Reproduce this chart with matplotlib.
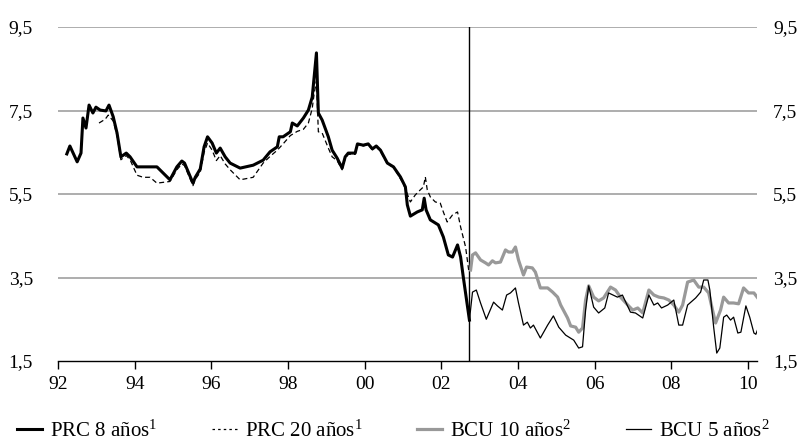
import matplotlib
matplotlib.use("Agg")
import matplotlib.pyplot as plt
from matplotlib.lines import Line2D

plt.rcParams['font.family'] = ['Liberation Serif', 'DejaVu Serif']
plt.rcParams['mathtext.fontset'] = 'custom'
plt.rcParams['mathtext.rm'] = 'Liberation Serif'
plt.rcParams['mathtext.it'] = 'Liberation Serif'

# PRC 8 años (decimal years, %)
prc8_x = [1992.23, 1992.31, 1992.50, 1992.60, 1992.65, 1992.73, 1992.81, 1992.91, 1992.99, 1993.10,
          1993.25, 1993.33, 1993.44, 1993.54, 1993.64, 1993.78, 1993.88, 1994.06, 1994.22, 1994.58,
          1994.92, 1995.10, 1995.23, 1995.30, 1995.52, 1995.58, 1995.71, 1995.81, 1995.90, 1996.02,
          1996.13, 1996.23, 1996.36, 1996.49, 1996.75, 1997.09, 1997.35, 1997.53, 1997.72, 1997.77,
          1997.87, 1998.06, 1998.11, 1998.24, 1998.40, 1998.53, 1998.63, 1998.68, 1998.74, 1998.79,
          1998.89, 1999.05, 1999.15, 1999.28, 1999.41, 1999.49, 1999.57, 1999.75, 1999.81, 1999.96,
          2000.09, 2000.20, 2000.30, 2000.41, 2000.59, 2000.75, 2000.93, 2001.06, 2001.11, 2001.19,
          2001.37, 2001.50, 2001.55, 2001.60, 2001.71, 2001.92, 2002.05, 2002.18, 2002.29, 2002.42,
          2002.50, 2002.57, 2002.73]
prc8_y = [6.46, 6.65, 6.27, 6.48, 7.32, 7.08, 7.63, 7.44, 7.58, 7.51,
          7.49, 7.63, 7.35, 6.96, 6.39, 6.48, 6.39, 6.15, 6.15, 6.15,
          5.84, 6.15, 6.29, 6.24, 5.76, 5.90, 6.10, 6.63, 6.87, 6.72,
          6.48, 6.60, 6.39, 6.24, 6.12, 6.19, 6.31, 6.51, 6.63, 6.87,
          6.87, 6.99, 7.20, 7.13, 7.32, 7.51, 7.82, 8.30, 8.88, 7.44,
          7.27, 6.87, 6.55, 6.36, 6.12, 6.39, 6.48, 6.48, 6.70, 6.67,
          6.70, 6.58, 6.65, 6.55, 6.24, 6.15, 5.91, 5.67, 5.24, 4.97,
          5.07, 5.12, 5.40, 5.12, 4.88, 4.76, 4.47, 4.04, 3.99, 4.28,
          3.99, 3.51, 2.48]

# PRC 20 años
prc20_x = [1993.07, 1993.23, 1993.31, 1993.44, 1993.54, 1993.64, 1993.78, 1993.88, 1994.06, 1994.22,
           1994.40, 1994.58, 1994.92, 1995.10, 1995.23, 1995.30, 1995.52, 1995.58, 1995.71, 1995.81,
           1995.90, 1996.02, 1996.13, 1996.23, 1996.36, 1996.49, 1996.75, 1997.09, 1997.35, 1997.53,
           1997.72, 1997.87, 1998.06, 1998.24, 1998.40, 1998.53, 1998.63, 1998.68, 1998.74, 1998.79,
           1998.89, 1999.05, 1999.15, 1999.28, 1999.41, 1999.49, 1999.57, 1999.75, 1999.81, 1999.96,
           2000.09, 2000.20, 2000.30, 2000.41, 2000.59, 2000.75, 2001.00, 2001.19, 2001.32, 2001.45,
           2001.53, 2001.58, 2001.63, 2001.71, 2001.84, 2001.97, 2002.05, 2002.15, 2002.29, 2002.42,
           2002.50, 2002.63, 2002.71]
prc20_y = [7.20, 7.29, 7.39, 7.25, 6.90, 6.32, 6.42, 6.32, 5.95, 5.90,
           5.90, 5.76, 5.80, 6.08, 6.22, 6.18, 5.70, 5.85, 6.02, 6.50, 6.72, 6.55,
           6.30, 6.42, 6.22, 6.08, 5.84, 5.90, 6.24, 6.40, 6.55, 6.70,
           6.90, 7.00, 7.05, 7.20, 7.55, 7.90, 8.20, 6.99,
           6.96, 6.60, 6.39, 6.30, 6.08, 6.35, 6.45, 6.45, 6.68, 6.65,
           6.68, 6.56, 6.63, 6.52, 6.22, 6.14, 5.76, 5.31, 5.48, 5.60,
           5.67, 5.91, 5.60, 5.43, 5.31, 5.28, 5.07, 4.83, 5.00, 5.07,
           4.71, 4.23, 3.68]

# BCU 10 años
bcu10_x = [2002.76, 2002.81, 2002.89, 2003.02, 2003.15, 2003.23, 2003.33, 2003.41, 2003.54, 2003.67,
           2003.75, 2003.85, 2003.93, 2004.01, 2004.14, 2004.22, 2004.37, 2004.45, 2004.58, 2004.77,
           2004.90, 2005.03, 2005.11, 2005.29, 2005.37, 2005.50, 2005.58, 2005.68, 2005.76, 2005.84,
           2005.97, 2006.10, 2006.23, 2006.41, 2006.54, 2006.67, 2006.86, 2006.99, 2007.12, 2007.25,
           2007.41, 2007.54, 2007.67, 2007.80, 2007.93, 2008.06, 2008.19, 2008.29, 2008.42, 2008.58,
           2008.71, 2008.84, 2008.97, 2009.07, 2009.15, 2009.28, 2009.36, 2009.49, 2009.62, 2009.75,
           2009.88, 2010.01, 2010.15, 2010.25]
bcu10_y = [3.68, 4.04, 4.09, 3.92, 3.85, 3.80, 3.90, 3.85, 3.87, 4.16,
           4.11, 4.11, 4.23, 3.92, 3.56, 3.75, 3.73, 3.63, 3.25, 3.25,
           3.15, 3.03, 2.84, 2.53, 2.34, 2.31, 2.19, 2.29, 2.96, 3.30,
           3.03, 2.94, 3.01, 3.27, 3.20, 3.03, 2.84, 2.72, 2.77, 2.65,
           3.20, 3.08, 3.03, 3.01, 2.96, 2.84, 2.67, 2.84, 3.39, 3.44,
           3.27, 3.27, 3.13, 2.72, 2.41, 2.72, 3.03, 2.89, 2.89, 2.87,
           3.25, 3.13, 3.13, 3.01]

# BCU 5 años
bcu5_x = [2002.73, 2002.81, 2002.91, 2003.02, 2003.17, 2003.36, 2003.46, 2003.59, 2003.70, 2003.80,
          2003.93, 2004.01, 2004.14, 2004.24, 2004.32, 2004.40, 2004.58, 2004.77, 2004.92, 2005.06,
          2005.24, 2005.45, 2005.58, 2005.68, 2005.76, 2005.84, 2005.97, 2006.10, 2006.26, 2006.36,
          2006.59, 2006.72, 2006.93, 2007.06, 2007.25, 2007.41, 2007.54, 2007.64, 2007.74, 2007.90,
          2008.06, 2008.19, 2008.29, 2008.42, 2008.63, 2008.76, 2008.84, 2008.95, 2009.00, 2009.10,
          2009.18, 2009.26, 2009.36, 2009.44, 2009.54, 2009.62, 2009.73, 2009.81, 2009.94, 2010.04,
          2010.15, 2010.20, 2010.25]
bcu5_y = [2.48, 3.15, 3.20, 2.89, 2.50, 2.91, 2.82, 2.72, 3.08, 3.13,
          3.25, 2.89, 2.36, 2.43, 2.29, 2.36, 2.05, 2.36, 2.58, 2.31,
          2.12, 2.00, 1.81, 1.84, 2.72, 3.30, 2.79, 2.65, 2.77, 3.13,
          3.03, 3.08, 2.67, 2.65, 2.53, 3.08, 2.84, 2.89, 2.77, 2.84,
          2.96, 2.36, 2.36, 2.84, 3.01, 3.15, 3.44, 3.44, 3.20, 2.31,
          1.69, 1.81, 2.55, 2.60, 2.48, 2.55, 2.17, 2.19, 2.82, 2.55,
          2.17, 2.14, 2.26]

x_ticks = [1992, 1994, 1996, 1998, 2000, 2002, 2004, 2006, 2008, 2010]
x_labels = ['92', '94', '96', '98', '00', '02', '04', '06', '08', '10']
y_ticks = [1.5, 3.5, 5.5, 7.5, 9.5]
y_labels = ['1,5', '3,5', '5,5', '7,5', '9,5']
break_year = 2002.73

FS = 14

fig = plt.figure(figsize=(8.03, 4.41), dpi=100)
ax = fig.add_axes([58/803, 1-361/441, (757-58)/803, (361-27)/441])

grid_c = '#a0a0a0'
for yv in y_ticks[1:]:
    ax.axhline(yv, color=grid_c, lw=1.2, zorder=1)

ax.axvline(break_year, color='black', lw=1.0, zorder=2)

ax.plot(bcu10_x, bcu10_y, color='#999999', lw=2.3, zorder=3)
ax.plot(bcu5_x, bcu5_y, color='black', lw=0.9, zorder=4)
ax.plot(prc20_x, prc20_y, color='black', lw=0.9, ls=(0, (4, 2.5)), zorder=4)
ax.plot(prc8_x, prc8_y, color='black', lw=2.2, zorder=5)

ax.set_xlim(1992, 2010.23)
ax.set_ylim(1.5, 9.5)

for s in ['left', 'right', 'top']:
    ax.spines[s].set_visible(False)
ax.spines['bottom'].set_color('black')
ax.spines['bottom'].set_linewidth(1.0)

ax.set_xticks(x_ticks)
ax.set_xticklabels(x_labels, fontsize=FS)
ax.tick_params(axis='x', direction='out', length=6, width=1.0, pad=5)

ax.set_yticks(y_ticks)
ax.set_yticklabels(y_labels, fontsize=FS)
ax.tick_params(axis='y', length=0, pad=18)

ax2 = ax.twinx()
ax2.set_ylim(1.5, 9.5)
ax2.set_yticks(y_ticks)
ax2.set_yticklabels(y_labels, fontsize=FS)
ax2.tick_params(axis='y', length=0, pad=11.5)
for s in ['left', 'right', 'top', 'bottom']:
    ax2.spines[s].set_visible(False)

handles = [
    Line2D([], [], color='black', lw=2.2),
    Line2D([], [], color='black', lw=0.9, ls=(0, (2, 2.5))),
    Line2D([], [], color='#999999', lw=2.3),
    Line2D([], [], color='black', lw=0.9),
]
labels = [r'PRC 8 años$^{\mathrm{1}}$', r'PRC 20 años$^{\mathrm{1}}$',
          r'BCU 10 años$^{\mathrm{2}}$', r'BCU 5 años$^{\mathrm{2}}$']
fig.legend(handles, labels, loc='center left', bbox_to_anchor=(17/803, 1-431/441), ncol=4,
           frameon=False, fontsize=15, handlelength=1.2, handletextpad=0.4,
           columnspacing=2.6, borderaxespad=0, borderpad=0)

fig.savefig('out.png', dpi=100)
